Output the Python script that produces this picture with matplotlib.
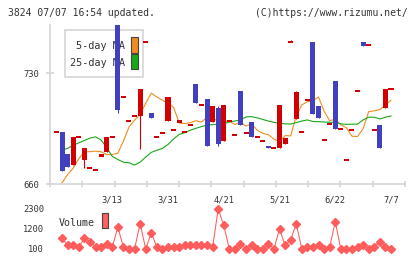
import numpy as np
import matplotlib
matplotlib.use('Agg')
import matplotlib.pyplot as plt
from matplotlib.patches import Rectangle

W, H = 420, 259

# daily candles (index 0..60)
opens = [693, 693, 679, 672, 690, 675, 670, 669, 678, 680,
         690, 765, 715, 700, 703, 703, 750, 705, 690, 692,
         700, 694, 699, 693, 697, 723, 710, 714, 699, 708,
         687, 700, 691, 719, 692, 699, 690, 687, 684, 683,
         683, 685, 750, 701, 693, 713, 750, 709, 688, 698,
         725, 695, 675, 694, 719, 750, 748, 694, 697, 708,
         720]
closes = [693, 668, 671, 690, 690, 683, 670, 669, 678, 690,
          690, 707, 715, 700, 703, 720, 750, 702, 690, 692,
          715, 694, 700, 693, 698, 711, 710, 684, 709, 685,
          710, 700, 691, 697, 692, 690, 690, 687, 683, 683,
          710, 689, 750, 718, 693, 713, 704, 702, 688, 698,
          695, 695, 675, 694, 719, 747, 748, 694, 683, 720,
          720]
highs = [693, 693, 679, 690, 690, 683, 670, 669, 678, 690,
         690, 765, 715, 700, 703, 720, 750, 705, 690, 692,
         715, 694, 700, 693, 698, 723, 710, 714, 709, 709,
         710, 700, 691, 719, 692, 699, 690, 687, 684, 683,
         710, 689, 751, 719, 693, 713, 750, 709, 688, 698,
         725, 695, 675, 694, 719, 750, 748, 694, 697, 720,
         720]
lows = [693, 668, 671, 672, 690, 670, 670, 669, 678, 680,
        690, 705, 715, 700, 703, 682, 750, 702, 690, 692,
        700, 694, 699, 693, 697, 711, 710, 684, 699, 684,
        687, 700, 691, 697, 692, 690, 690, 687, 683, 683,
        683, 685, 750, 701, 693, 713, 704, 702, 688, 698,
        695, 695, 675, 694, 719, 747, 748, 694, 683, 708,
        720]

# moving averages and volume (index 1..60)
ma5 = [660.8, 666, 670, 676, 680.5, 680.4, 680.8, 680.4, 678.6, 678.6,
       679.4, 687, 696, 700.4, 704, 711, 717.4, 715, 713, 711,
       708.5, 698.6, 698.2, 698.8, 700, 699.2, 702, 699.2, 702, 699.8,
       699.6, 697.6, 699, 696.6, 698, 694, 692, 691.2, 688.4, 686.6,
       690.6, 690.4, 703, 710, 712, 712.6, 715, 706, 700, 701,
       697.4, 695.6, 690.2, 690, 695, 705.8, 706.2, 707, 710, 713]
ma25 = [681.5, 682.5, 684.5, 686, 687.5, 689, 689.8, 687.8, 683, 677.5,
        675.5, 673.8, 673.4, 672, 673.8, 677, 680, 681.3, 682.5, 685,
        688.5, 691.3, 692.5, 694, 695.2, 696.3, 697.2, 697.5, 697.8, 698.2,
        699.2, 699.8, 700.5, 702.4, 702.6, 701.8, 700.8, 699.8, 699, 698.4,
        698, 697.9, 698.8, 699.8, 700.5, 699.5, 699.4, 699.2, 699, 699,
        698, 697.7, 697.8, 697.9, 700.5, 702.2, 702.2, 701.1, 702.2, 703]
volume = [700, 300, 300, 200, 700, 500, 200, 200, 400, 200,
          1300, 200, 100, 100, 1500, 100, 1000, 200, 100, 200,
          200, 200, 300, 300, 300, 300, 300, 200, 2300, 1400,
          100, 100, 400, 100, 300, 100, 100, 400, 100, 1200,
          300, 600, 1500, 100, 200, 200, 300, 100, 200, 1600,
          100, 100, 100, 200, 300, 100, 200, 500, 200, 100]

date_pos = [10, 20, 30, 40, 50, 60]
date_labels = ['3/13', '3/31', '4/21', '5/21', '6/22', '7/7']
price_ticks = [660, 730]
vol_ticks = [100, 1200, 2300]

RED = '#d20000'
BLUE = '#4040c0'
ORANGE = '#f08c1e'
GREEN = '#18a818'
VCOL = '#ff5c5c'
GRID = '#d6d6d6'
TXT = '#333333'
MONO = 'DejaVu Sans Mono'


def fx(px):
    return px / W


def fy(py):
    return 1 - py / H


fig = plt.figure(figsize=(W / 100, H / 100), dpi=100)
xlim = (-1.166, 62.51)

ax = fig.add_axes([fx(50), fy(184), 355 / W, 159 / H])
ax.set_xlim(*xlim)
ax.set_ylim(660, 760.5)

# legend box (drawn under the candles)
ax.add_patch(Rectangle((fx(65), fy(77)), 78 / W, 47 / H, transform=fig.transFigure,
                       fc='white', ec=GRID, lw=1.2, zorder=1, clip_on=False))
ax.text(fx(125), fy(46), '5-day MA', transform=fig.transFigure, ha='right', va='center',
        fontsize=7.3, family=MONO, color=TXT, zorder=1.1)
ax.text(fx(125), fy(63), '25-day MA', transform=fig.transFigure, ha='right', va='center',
        fontsize=7.3, family=MONO, color=TXT, zorder=1.1)
ax.add_patch(Rectangle((fx(131), fy(52.7)), 6.7 / W, 15.4 / H, transform=fig.transFigure,
                       fc=ORANGE, ec='#444444', lw=0.8, zorder=1.1, clip_on=False))
ax.add_patch(Rectangle((fx(131), fy(69.3)), 6.7 / W, 15.0 / H, transform=fig.transFigure,
                       fc=GREEN, ec='#444444', lw=0.8, zorder=1.1, clip_on=False))

mx = np.arange(1, len(ma5) + 1)
ax.plot(mx, ma5, color=ORANGE, lw=0.8, zorder=2)
ax.plot(mx, ma25, color=GREEN, lw=0.8, zorder=2)

o = np.array(opens, dtype=float)
c = np.array(closes, dtype=float)
x = np.arange(len(o))
col = np.where(c >= o, RED, BLUE)
lo = np.minimum(o, c)
h = np.abs(c - o)
flat = h < 1.3
lo = np.where(flat, (o + c) / 2 - 0.65, lo)
h = np.where(flat, 1.3, h)
ax.vlines(x, lows, highs, colors=col, lw=0.8, zorder=3)
ax.bar(x, h, 0.9, bottom=lo, color=col, linewidth=0, zorder=4)

for s in ['top', 'right']:
    ax.spines[s].set_visible(False)
for s in ['left', 'bottom']:
    ax.spines[s].set_color(GRID)
    ax.spines[s].set_linewidth(1.2)
ax.set_yticks(price_ticks)
ax.set_yticklabels([str(v) for v in price_ticks], family=MONO, fontsize=6.3, color=TXT)
ax.tick_params(axis='y', length=6, direction='inout', color=GRID, width=1.2, pad=4.5)
ax.set_xticks(date_pos)
ax.set_xticklabels(date_labels, family=MONO, fontsize=6.3, color=TXT)
ax.tick_params(axis='x', which='major', length=0, pad=8)
ax.set_xticks(np.linspace(xlim[0], xlim[1], 12), minor=True)
ax.tick_params(axis='x', which='minor', length=5, direction='inout', color=GRID, width=1.2)

# volume panel
vax = fig.add_axes([fx(50), fy(253), 355 / W, 48 / H])
vax.set_xlim(*xlim)
vax.set_ylim(-120, 2520)
vx = np.arange(1, len(volume) + 1)
vax.plot(vx, volume, color=VCOL, lw=0.75, marker='D', ms=3.6, mfc=VCOL, mec=VCOL, zorder=3)
for s in vax.spines.values():
    s.set_visible(False)
vax.set_xticks([])
vax.set_yticks(vol_ticks)
vax.set_yticklabels([str(v) for v in vol_ticks], family=MONO, fontsize=6.3, color=TXT)
vax.tick_params(axis='y', length=0, pad=4.3)
vax.text(fx(59), fy(222.5), 'Volume', transform=fig.transFigure, ha='left', va='center',
         fontsize=7.2, family=MONO, color=TXT)
vax.add_patch(Rectangle((fx(102), fy(228.3)), 5.6 / W, 15 / H, transform=fig.transFigure,
                        fc='#ff6060', ec='#444444', lw=0.8, clip_on=False))

fig.text(fx(8), fy(12.5), '3824 07/07 16:54 updated.', ha='left', va='center',
         fontsize=7, family=MONO, color=TXT)
fig.text(fx(408), fy(12.5), '(C)https://www.rizumu.net/', ha='right', va='center',
         fontsize=7, family=MONO, color=TXT)

fig.savefig('out.png', dpi=100)
